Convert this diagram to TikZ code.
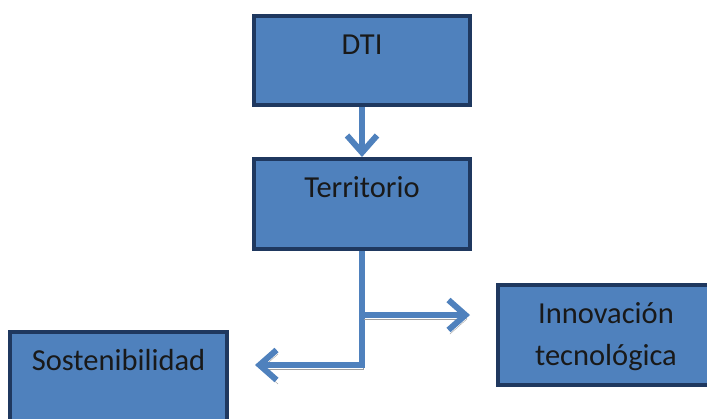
\documentclass[tikz,border=0pt]{standalone}
\usepackage{fontspec}
\setmainfont{Carlito}
\usetikzlibrary{arrows.meta,positioning}

\definecolor{boxfill}{RGB}{79,129,189}
\definecolor{boxline}{RGB}{31,56,95}
\definecolor{txtcol}{RGB}{25,25,25}

\begin{document}
\begin{tikzpicture}[
    x=1pt, y=-1pt,
    box/.style={draw=boxline, fill=boxfill, line width=4pt, minimum width=216pt,
        inner sep=0pt, text height=38pt, text=txtcol, font=\fontsize{30.5}{42}\selectfont},
    flow/.style={draw=boxfill, line width=6pt},
    tip/.style={-{Straight Barb[length=17pt,width=30pt]}},
    shadowed/.style={preaction={draw=gray!75, transform canvas={shift={(1.5pt,-4pt)}}}}
]
\useasboundingbox (0,0) rectangle (707,418);

% Boxes
\node[box, minimum height=89pt, text depth=51pt] (dti) at (362,60.5) {DTI};
\node[box, minimum height=90pt, text depth=52pt] (terr) at (362,204) {Territorio};
\node[box, minimum height=100pt, align=center, text height=80pt, text depth=20pt] (innov) at (606,335) {Innovación\\tecnológica};
\node[box, minimum height=100pt, minimum width=217pt, text depth=62pt] (sost) at (118.5,382) {Sostenibilidad};

% Free ends of the branches
\coordinate (tipI) at (470,315);
\coordinate (tipS) at (255,365);

% Connectors
\draw[flow, tip] (dti.south) -- (terr.north);
\draw[flow, tip, shadowed] (terr.south) |- (tipS);
\draw[flow, tip, shadowed] (terr.south |- tipI) -- (tipI);

\end{tikzpicture}
\end{document}
